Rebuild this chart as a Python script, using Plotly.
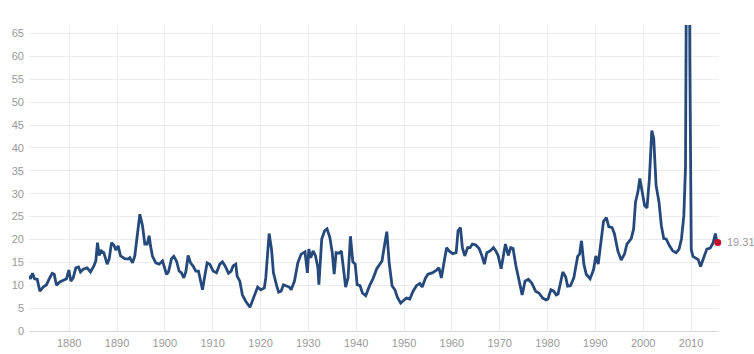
import plotly.graph_objects as go

years = [1871.57, 1871.92, 1872.34, 1872.76, 1873.31, 1873.87, 1874.57, 1875.26, 1875.82, 1876.45,
         1876.87, 1877.35, 1878.05, 1878.75, 1879.44, 1879.93, 1880.35, 1880.84, 1881.39, 1881.95,
         1882.37, 1882.93, 1883.76, 1884.46, 1885.16, 1885.57, 1885.92, 1886.27, 1886.69, 1887.24,
         1887.94, 1888.36, 1888.85, 1889.33, 1889.75, 1890.24, 1890.73, 1891.63, 1892.33, 1892.68,
         1893.24, 1893.72, 1894.21, 1894.77, 1895.33, 1895.81, 1896.30, 1896.72, 1897.00, 1897.42,
         1898.11, 1898.81, 1899.51, 1899.85, 1900.34, 1900.76, 1901.39, 1901.87, 1902.43, 1902.99,
         1903.48, 1903.96, 1904.38, 1904.87, 1905.36, 1905.91, 1906.47, 1907.03, 1907.45, 1907.87,
         1908.35, 1908.84, 1909.40, 1910.09, 1910.79, 1911.49, 1912.04, 1912.60, 1913.30, 1913.86,
         1914.27, 1914.83, 1915.11, 1915.67,
         1916.2, 1916.9, 1917.8, 1918.7, 1919.4, 1920.1, 1920.8, 1921.1, 1921.8, 1922.3,
         1922.7, 1923.4, 1923.8, 1924.3, 1924.8, 1925.3, 1926.0, 1926.4, 1927.1, 1927.8,
         1928.5, 1929.3, 1929.8, 1930.1, 1930.5, 1931.0, 1931.5, 1932.0, 1932.2, 1932.8,
         1933.4, 1933.9, 1934.5, 1935.0, 1935.4, 1935.8, 1936.4, 1936.9, 1937.4, 1937.8,
         1938.3, 1938.8, 1939.3, 1939.8, 1940.2, 1940.8, 1941.3, 1942.0, 1942.8, 1943.5,
         1944.3, 1945.4, 1945.9, 1946.4, 1946.9, 1947.5, 1948.1, 1948.6, 1949.3, 1950.0,
         1950.5, 1951.2, 1951.9, 1952.6, 1953.3, 1953.8, 1954.5, 1955.0, 1955.9, 1956.8,
         1957.3, 1957.8, 1958.3, 1958.9, 1959.4, 1960.2, 1960.9, 1961.3, 1961.8, 1962.2,
         1962.7, 1963.3, 1963.8, 1964.3, 1965.0, 1965.7, 1966.3, 1966.8, 1967.3, 1968.0,
         1968.7, 1969.2, 1969.7, 1970.3, 1971.2, 1971.8, 1972.3, 1972.8, 1973.4, 1974.1,
         1974.7, 1975.3, 1976.0, 1976.7, 1977.5, 1978.2, 1979.0, 1979.7, 1980.1, 1980.7,
         1981.3, 1981.8, 1982.2, 1982.7, 1983.2, 1983.8, 1984.2, 1984.8, 1985.5, 1986.3,
         1986.7, 1987.1, 1987.6, 1988.1, 1988.9, 1989.6, 1990.1, 1990.6, 1991.2, 1991.7,
         1992.3, 1992.8, 1993.5, 1994.0, 1994.7, 1995.4, 1996.1, 1996.6, 1997.5, 1998.0,
         1998.4, 1998.9, 1999.3, 1999.8, 2000.3, 2000.8, 2001.3, 2001.8, 2002.2, 2002.7,
         2003.3, 2003.8, 2004.3, 2004.8, 2005.5, 2006.2, 2006.9, 2007.5, 2008.0, 2008.5,
         2008.85, 2009.0, 2009.3, 2009.6, 2009.75, 2009.9, 2010.05, 2010.4, 2011.0, 2011.5,
         2012.0, 2012.5, 2013.1, 2013.3, 2014.0, 2014.6, 2015.1, 2015.4, 2015.6]

pe = [12.0, 11.4, 12.6, 11.4, 11.3, 8.7, 9.6, 10.1, 11.4, 12.6,
      12.4, 10.0, 10.7, 11.0, 11.4, 13.3, 10.9, 11.6, 13.8, 14.0,
      12.9, 13.5, 13.8, 12.9, 14.2, 15.3, 19.3, 16.5, 17.5, 17.1,
      14.6, 15.7, 19.3, 18.8, 17.7, 18.6, 16.4, 15.8, 15.7, 16.0,
      14.9, 16.4, 20.1, 25.5, 23.0, 19.0, 19.0, 20.8, 18.6, 16.3,
      14.9, 14.6, 15.3, 14.2, 12.4, 12.9, 15.8, 16.3, 15.3, 13.1,
      12.7, 11.6, 12.9, 16.5, 14.9, 14.2, 13.1, 13.1, 11.3, 9.0,
      12.0, 14.9, 14.6, 13.1, 12.7, 14.6, 15.1, 14.2, 12.6, 13.1,
      14.2, 14.6, 12.0, 10.9,
      7.9, 6.5, 5.2, 7.9, 9.6, 9.0, 9.4, 11.6, 21.3, 17.9,
      12.7, 9.8, 8.5, 8.7, 10.1, 9.9, 9.6, 9.0, 10.9, 14.9,
      16.8, 17.3, 12.7, 17.9, 16.0, 17.5, 16.4, 13.8, 10.1, 20.1,
      21.9, 22.3, 20.4, 17.1, 12.4, 17.1, 17.0, 17.5, 12.7, 9.6,
      11.6, 20.7, 15.1, 14.6, 10.1, 9.9, 8.3, 7.7, 9.9, 11.4,
      13.6, 15.3, 18.6, 21.7, 14.9, 9.9, 9.0, 7.4, 6.1, 6.7,
      7.2, 7.0, 8.7, 9.9, 10.4, 9.6, 11.6, 12.4, 12.7, 13.3,
      13.8, 11.6, 14.9, 18.2, 17.5, 16.9, 17.1, 21.9, 22.6, 18.2,
      16.4, 18.2, 18.2, 19.0, 18.8, 18.0, 16.4, 14.6, 17.1, 17.5,
      18.2, 17.5, 16.4, 13.6, 19.0, 16.5, 18.2, 18.0, 14.2, 10.5,
      7.9, 10.9, 11.3, 10.5, 8.7, 8.3, 7.2, 6.8, 7.0, 9.0,
      8.7, 7.9, 8.1, 10.5, 12.9, 11.8, 9.8, 9.9, 11.6, 16.3,
      16.8, 19.7, 14.6, 12.4, 11.4, 13.3, 16.4, 14.6, 20.1, 23.9,
      24.8, 22.8, 22.6, 21.2, 17.5, 15.5, 16.8, 19.0, 20.2, 22.3,
      28.2, 30.4, 33.3, 30.4, 27.4, 26.9, 33.3, 43.8, 42.1, 31.8,
      28.2, 23.0, 20.2, 20.1, 18.6, 17.5, 17.1, 17.9, 20.1, 25.2,
      35.9, 70.9, 119.0, 110.0, 60.0, 28.0, 17.8, 16.3, 16.0, 15.6,
      14.1, 15.6, 17.1, 17.9, 18.1, 19.2, 21.3, 19.4, 19.31]

last_label = "19.31"

x_ticks = list(range(1880, 2011, 10))
y_ticks = list(range(0, 66, 5))

fig = go.Figure()
fig.add_trace(go.Scatter(
    x=years, y=pe, mode="lines",
    line=dict(color="#26497c", width=2.8),
    hoverinfo="x+y", showlegend=False,
))
fig.add_trace(go.Scatter(
    x=[years[-1]], y=[pe[-1]], mode="markers",
    marker=dict(color="#c8102e", size=7),
    cliponaxis=False, showlegend=False,
))
fig.add_annotation(
    x=years[-1], y=pe[-1], text=last_label, showarrow=False,
    xanchor="left", yanchor="middle", xshift=7, yshift=1,
    font=dict(family="Liberation Sans, Arial, sans-serif", size=11, color="#999999"),
)

fig.update_layout(
    width=754, height=354,
    margin=dict(l=29, r=35, t=25, b=22.5, autoexpand=False),
    paper_bgcolor="white", plot_bgcolor="white",
    font=dict(family="Liberation Sans, Arial, sans-serif", size=11, color="#999999"),
    xaxis=dict(
        range=[1871.6, 2015.85], tickvals=x_ticks, ticktext=[str(t) for t in x_ticks],
        showgrid=True, gridcolor="#ececec", gridwidth=1, automargin=False,
        zeroline=False, showline=True, linecolor="#d6d6d6", linewidth=1,
        ticks="", ticklabelstandoff=2, tickfont=dict(size=11, color="#999999"),
    ),
    yaxis=dict(
        range=[0, 66.85], tickvals=y_ticks, ticktext=[str(t) for t in y_ticks],
        showgrid=True, gridcolor="#ececec", gridwidth=1, automargin=False,
        zeroline=False, showline=False, ticks="", ticklabelstandoff=4,
        tickfont=dict(size=11, color="#999999"),
    ),
)

fig.write_html("out.html")
